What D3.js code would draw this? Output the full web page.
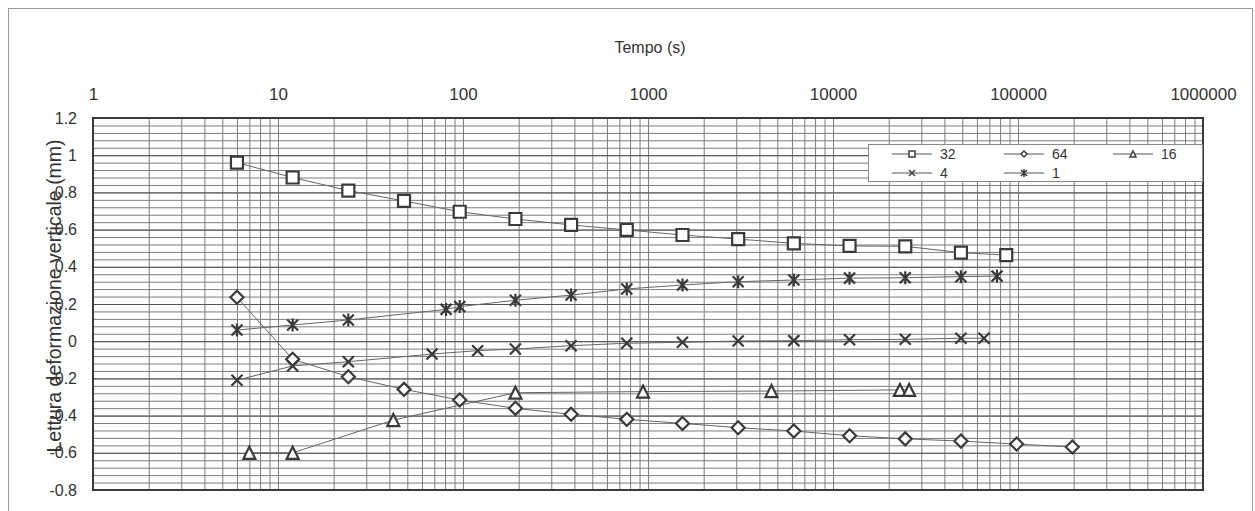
<!DOCTYPE html>
<html>
<head>
<meta charset="utf-8">
<script src="https://cdn.jsdelivr.net/npm/d3@7"></script>
<style>
  body { margin: 0; background: #fff; }
  svg { display: block; font-family: "Liberation Sans", Arial, sans-serif; }
</style>
</head>
<body>
<svg id="chart" width="1255" height="511"></svg>
<script>
// Elapsed time (s) and vertical deformation reading (mm) for each load step
const time32 = [6, 12, 24, 48, 96, 192, 384, 768, 1536, 3072, 6144, 12288, 24576, 49152, 86400];
const read32 = [0.96, 0.88, 0.81, 0.754, 0.696, 0.657, 0.625, 0.598, 0.571, 0.549, 0.526, 0.512, 0.51, 0.476, 0.463];

const time64 = [6, 12, 24, 48, 96, 192, 384, 768, 1536, 3072, 6144, 12288, 24576, 49152, 98304, 196608];
const read64 = [0.236, -0.097, -0.191, -0.259, -0.316, -0.361, -0.393, -0.42, -0.442, -0.465, -0.483, -0.508, -0.525, -0.537, -0.553, -0.569];

const time16 = [7, 12, 42, 192, 940, 4650, 23000, 25800];
const read16 = [-0.6, -0.6, -0.424, -0.277, -0.271, -0.268, -0.262, -0.262];

const time4 = [6, 12, 24, 68, 120, 192, 384, 768, 1536, 3072, 6144, 12288, 24576, 49152, 65500];
const read4 = [-0.21, -0.133, -0.11, -0.069, -0.051, -0.042, -0.024, -0.011, -0.006, 0.001, 0.003, 0.008, 0.01, 0.016, 0.016];

const time1 = [6, 12, 24, 81, 96, 192, 384, 768, 1536, 3072, 6144, 12288, 24576, 49152, 77000];
const read1 = [0.06, 0.087, 0.114, 0.171, 0.186, 0.22, 0.248, 0.281, 0.302, 0.32, 0.329, 0.339, 0.341, 0.347, 0.35];

const seriesNames = ["32", "64", "16", "4", "1"];
const xTickValues = [1, 10, 100, 1000, 10000, 100000, 1000000];
const yTickValues = [-0.8, -0.6, -0.4, -0.2, 0, 0.2, 0.4, 0.6, 0.8, 1, 1.2];

const xTitle = "Tempo (s)";
const yTitle = "Lettura deformazione verticale (mm)";

// ---- layout ----
const plot = { left: 93, right: 1203, top: 118, bottom: 490 };
const ink = "#333";
const svg = d3.select("#chart");

// outer chart frame
svg.append("rect")
  .attr("x", 8.5).attr("y", 8.5).attr("width", 1244).attr("height", 520)
  .attr("fill", "#fff").attr("stroke", "#9a9a9a").attr("stroke-width", 1);

const x = d3.scaleLog().domain([1, 1e6]).range([plot.left, plot.right]);
const y = d3.scaleLinear().domain([-0.8, 1.2]).range([plot.bottom, plot.top]);

// ---- gridlines ----
const minorY = d3.range(0, 51).map(i => -0.8 + i * 0.04);

svg.append("g")
  .attr("transform", `translate(0,${plot.bottom})`)
  .call(d3.axisBottom(x).tickValues(x.ticks()).tickSize(-(plot.bottom - plot.top)).tickFormat(""))
  .call(g => g.select(".domain").remove())
  .call(g => g.selectAll("line").attr("stroke", "#7c7c7c").attr("stroke-width", 1));

svg.append("g")
  .attr("transform", `translate(${plot.left},0)`)
  .call(d3.axisLeft(y).tickValues(minorY).tickSize(-(plot.right - plot.left)).tickFormat(""))
  .call(g => g.select(".domain").remove())
  .call(g => g.selectAll("line").attr("stroke", "#7c7c7c").attr("stroke-width", 1));

svg.append("g")
  .attr("transform", `translate(${plot.left},0)`)
  .call(d3.axisLeft(y).tickValues(yTickValues).tickSize(-(plot.right - plot.left)).tickFormat(""))
  .call(g => g.select(".domain").remove())
  .call(g => g.selectAll("line").attr("stroke", "#555").attr("stroke-width", 1));

// plot area border
svg.append("rect")
  .attr("x", plot.left).attr("y", plot.top)
  .attr("width", plot.right - plot.left).attr("height", plot.bottom - plot.top)
  .attr("fill", "none").attr("stroke", "#3a3a3a").attr("stroke-width", 2);

// ---- axes labels ----
svg.append("g")
  .attr("transform", `translate(0,${plot.top})`)
  .call(d3.axisTop(x).tickValues(xTickValues).tickSize(0).tickPadding(18).tickFormat(d3.format("d")))
  .call(g => g.select(".domain").remove())
  .call(g => g.selectAll("text").attr("fill", ink).attr("font-size", 17).attr("font-family", "Liberation Sans, Arial, sans-serif"));

svg.append("g")
  .attr("transform", `translate(${plot.left},0)`)
  .call(d3.axisLeft(y).tickValues(yTickValues).tickSize(0).tickPadding(16)
    .tickFormat(d => String(+d.toFixed(1))))
  .call(g => g.select(".domain").remove())
  .call(g => g.selectAll("text").attr("fill", ink).attr("font-size", 16).attr("font-family", "Liberation Sans, Arial, sans-serif"));

svg.append("text")
  .attr("x", (plot.left + plot.right) / 2 + 2).attr("y", 53)
  .attr("text-anchor", "middle").attr("font-size", 16).attr("fill", ink)
  .text(xTitle);

svg.append("text")
  .attr("transform", `translate(61,296) rotate(-90)`)
  .attr("text-anchor", "middle").attr("font-size", 19.5).attr("fill", ink)
  .text(yTitle);

// ---- markers ----
const markers = {
  square: s => `M${-s / 2},${-s / 2}h${s}v${s}h${-s}Z`,
  diamond: s => `M0,${-s / 2}L${s / 2},0L0,${s / 2}L${-s / 2},0Z`,
  triangle: s => `M0,${-s / 2}L${s / 2},${s / 2}L${-s / 2},${s / 2}Z`,
  cross: s => `M${-s / 2},${-s / 2}L${s / 2},${s / 2}M${s / 2},${-s / 2}L${-s / 2},${s / 2}`,
  star: s => `M${-s / 2},${-s / 2}L${s / 2},${s / 2}M${s / 2},${-s / 2}L${-s / 2},${s / 2}M0,${-s / 2 - 1}V${s / 2 + 1}`
};

const series = [
  { name: seriesNames[0], t: time32, v: read32, shape: "square", size: 12, fill: "#fff" },
  { name: seriesNames[1], t: time64, v: read64, shape: "diamond", size: 13, fill: "#fff" },
  { name: seriesNames[2], t: time16, v: read16, shape: "triangle", size: 12, fill: "#fff" },
  { name: seriesNames[3], t: time4, v: read4, shape: "cross", size: 11, fill: "none" },
  { name: seriesNames[4], t: time1, v: read1, shape: "star", size: 11, fill: "none" }
];

const line = d3.line().x(d => x(d[0])).y(d => y(d[1]));

const lineLayer = svg.append("g");
const markLayer = svg.append("g");

series.forEach(s => {
  const pts = s.t.map((t, i) => [t, s.v[i]]);
  lineLayer.append("path")
    .datum(pts)
    .attr("d", line)
    .attr("fill", "none").attr("stroke", "#666").attr("stroke-width", 1);
  markLayer.selectAll(null)
    .data(pts)
    .join("path")
    .attr("transform", d => `translate(${x(d[0])},${y(d[1])})`)
    .attr("d", markers[s.shape](s.size))
    .attr("fill", s.fill).attr("stroke", "#3a3a3a").attr("stroke-width", 2.2);
});

// ---- legend ----
const legend = svg.append("g");
legend.append("rect")
  .attr("x", 868.5).attr("y", 144.5).attr("width", 334).attr("height", 37)
  .attr("fill", "#fff").attr("stroke", "#8a8a8a").attr("stroke-width", 1);

const legendPos = [[892, 154], [1004, 154], [1113, 154], [892, 173], [1004, 173]];
series.forEach((s, i) => {
  const [lx, ly] = legendPos[i];
  const g = legend.append("g").attr("transform", `translate(${lx},${ly})`);
  g.append("line").attr("x1", 0).attr("x2", 40).attr("y1", 0).attr("y2", 0)
    .attr("stroke", "#555").attr("stroke-width", 1);
  g.append("path").attr("transform", "translate(20,0)")
    .attr("d", markers[s.shape](6))
    .attr("fill", s.fill).attr("stroke", "#3c3c3c").attr("stroke-width", 1.5);
  g.append("text").attr("x", 48).attr("dy", "0.35em")
    .attr("font-size", 14).attr("fill", ink).text(s.name);
});
</script>
</body>
</html>
